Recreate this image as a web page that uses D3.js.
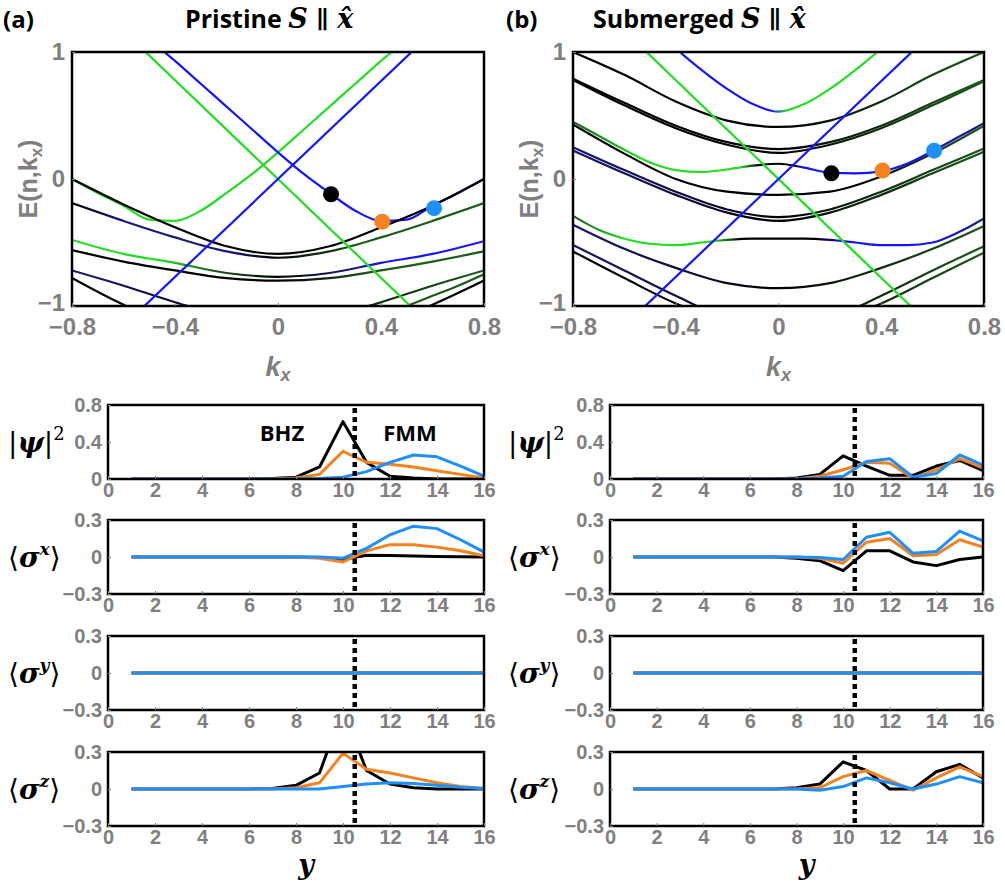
<!DOCTYPE html>
<html>
<head>
<meta charset="utf-8">
<script src="https://cdn.jsdelivr.net/npm/d3@7/dist/d3.min.js"></script>
<style>
  body { margin: 0; background: #fff; }
</style>
</head>
<body>
<div id="chart"></div>
<script>
// ---------------- band structure E(n,kx) ----------------
const kGrid = [-0.8, -0.6, -0.4, -0.2, 0, 0.2, 0.4, 0.6, 0.8];
const kFine = [-0.8, -0.7, -0.6, -0.5, -0.4, -0.3, -0.2, -0.1, 0, 0.1, 0.2, 0.3, 0.4, 0.5, 0.6, 0.7, 0.8];
const kCross = [-0.55, 0.55];
const kRight = [0.4, 0.5, 0.6, 0.7, 0.8];

// (a) pristine
const aU1a = [0.0, -0.2, -0.38, -0.53, -0.59, -0.53, -0.38, -0.21, 0.0];
const aU1b = [-0.19, -0.33, -0.46, -0.57, -0.62, -0.57, -0.46, -0.33, -0.19];
const aU2a = [-0.48, -0.59, -0.66, -0.74, -0.77, -0.74, -0.66, -0.59, -0.49];
const aU2b = [-0.56, -0.65, -0.72, -0.78, -0.80, -0.78, -0.72, -0.65, -0.57];
const aL1 = [-0.72, -0.84, -0.97, -1.08, -1.12, -1.08, -0.97, -0.84, -0.72];
const aL2 = [-0.78, -0.99, -1.15, -1.25, -1.3, -1.25, -1.15, -0.99, -0.8];
const aL3 = [-1.08, -1.0, -0.92, -0.84, -0.75];
const aCblue = [1.6, 1.45, 1.28, 1.1, 0.93, 0.75, 0.57, 0.39, 0.21, 0.04, -0.11, -0.25, -0.33, -0.32, -0.21, -0.11, 0.0];
const aCgreen = [0.0, -0.11, -0.21, -0.32, -0.33, -0.25, -0.11, 0.04, 0.21, 0.39, 0.57, 0.75, 0.93, 1.1, 1.28, 1.45, 1.6];
const lineBlue = [-1.06, 1.06];
const lineGreen = [1.07, -1.07];

// (b) submerged
const bB1 = [1.0, 0.82, 0.61, 0.46, 0.41, 0.46, 0.61, 0.82, 1.0];
const bB2a = [0.79, 0.6, 0.42, 0.29, 0.235, 0.29, 0.42, 0.6, 0.78];
const bB2b = [0.78, 0.58, 0.40, 0.27, 0.205, 0.27, 0.40, 0.58, 0.77];
const bTop = [2.0, 1.8, 1.5, 1.25, 1.03, 0.86, 0.71, 0.59, 0.53, 0.59, 0.71, 0.86, 1.03, 1.25, 1.5, 1.8, 2.0];
const bB3 = [0.45, 0.34, 0.23, 0.13, 0.07, 0.055, 0.075, 0.105, 0.12, 0.09, 0.05, 0.045, 0.06, 0.12, 0.22, 0.33, 0.44];
const bB3b = [0.43, 0.2, 0.0, -0.1, -0.125, -0.1, 0.02, 0.2, 0.42];
const bB4a = [0.25, 0.07, -0.1, -0.24, -0.30, -0.24, -0.1, 0.07, 0.24];
const bB4b = [0.225, 0.045, -0.125, -0.265, -0.33, -0.265, -0.125, 0.045, 0.215];
const bB5 = [-0.29, -0.4, -0.47, -0.51, -0.52, -0.5, -0.48, -0.47, -0.47, -0.47, -0.48, -0.5, -0.52, -0.52, -0.5, -0.42, -0.31];
const bB6 = [-0.36, -0.55, -0.7, -0.82, -0.86, -0.82, -0.7, -0.55, -0.37];
const bB7 = [-0.52, -0.72, -0.92, -1.1, -1.18, -1.1, -0.92, -0.72, -0.53];
const bB8 = [-0.57, -0.78, -0.98, -1.12, -1.2, -1.12, -0.98, -0.78, -0.58];

// marked states
const dotK = [0.206, 0.405, 0.606];
const aDotE = [-0.12, -0.336, -0.23];
const bDotE = [0.045, 0.066, 0.223];

// ---------------- site profiles along y ----------------
const siteY = [1, 2, 3, 4, 5, 6, 7, 8, 9, 10, 11, 12, 13, 14, 15, 16];
const zeros = [0, 0, 0, 0, 0, 0, 0, 0, 0, 0, 0, 0, 0, 0, 0, 0];

const psiA_k = [0, 0, 0, 0, 0, 0, 0.005, 0.02, 0.13, 0.62, 0.18, 0.03, 0.01, 0, 0, 0];
const psiA_o = [0, 0, 0, 0, 0, 0, 0, 0.01, 0.05, 0.30, 0.18, 0.16, 0.13, 0.09, 0.05, 0.01];
const psiA_b = [0, 0, 0, 0, 0, 0, 0, 0, 0.005, 0.02, 0.08, 0.18, 0.26, 0.24, 0.14, 0.03];
const sxA_k = [0, 0, 0, 0, 0, 0, 0, 0, -0.005, -0.02, 0.015, 0.012, 0.008, 0.005, 0.002, 0];
const sxA_o = [0, 0, 0, 0, 0, 0, 0, 0, -0.01, -0.04, 0.05, 0.10, 0.10, 0.08, 0.05, 0.01];
const sxA_b = [0, 0, 0, 0, 0, 0, 0, 0, 0, -0.01, 0.07, 0.18, 0.25, 0.23, 0.14, 0.04];
const szA_k = [0, 0, 0, 0, 0, 0, 0.005, 0.03, 0.13, 0.65, 0.15, 0.04, 0.01, 0, 0, 0];
const szA_o = [0, 0, 0, 0, 0, 0, 0, 0.01, 0.05, 0.29, 0.16, 0.13, 0.09, 0.05, 0.02, 0.005];
const szA_b = [0, 0, 0, 0, 0, 0, 0, 0, 0, 0.02, 0.04, 0.05, 0.045, 0.03, 0.015, 0.005];

const psiB_k = [0, 0, 0, 0, 0, 0, 0, 0.01, 0.05, 0.25, 0.14, 0.04, 0.04, 0.14, 0.20, 0.09];
const psiB_o = [0, 0, 0, 0, 0, 0, 0, 0, 0.03, 0.10, 0.18, 0.17, 0.01, 0.10, 0.22, 0.12];
const psiB_b = [0, 0, 0, 0, 0, 0, 0, 0, 0.01, 0.03, 0.19, 0.22, 0.02, 0.06, 0.26, 0.15];
const sxB_k = [0, 0, 0, 0, 0, 0, 0, -0.01, -0.03, -0.11, 0.05, 0.05, -0.04, -0.07, -0.02, 0];
const sxB_o = [0, 0, 0, 0, 0, 0, 0, 0, -0.01, -0.05, 0.12, 0.15, 0.01, 0.02, 0.14, 0.08];
const sxB_b = [0, 0, 0, 0, 0, 0, 0, 0, -0.005, -0.02, 0.16, 0.20, 0.03, 0.045, 0.21, 0.13];
const szB_k = [0, 0, 0, 0, 0, 0, 0, 0.01, 0.04, 0.22, 0.15, 0.0, 0.0, 0.14, 0.20, 0.09];
const szB_o = [0, 0, 0, 0, 0, 0, 0, 0, 0.01, 0.10, 0.15, 0.07, -0.01, 0.09, 0.18, 0.10];
const szB_b = [0, 0, 0, 0, 0, 0, 0, 0, -0.01, 0.02, 0.09, 0.05, 0.0, 0.04, 0.10, 0.05];

const interfaceY = 10.5;
const xTicksSite = [0, 2, 4, 6, 8, 10, 12, 14, 16];

// ---------------- styles ----------------
const GRAY = "#7f7f7f";
const C = {k: "#000000", navy: "#1a1a7a", dg: "#1b5c1b", blue: "#1414ff", green: "#22dd22"};
const dotColors = ["#000000", "#f5821f", "#1e8fff"];
const lineColors = ["#000000", "#f5821f", "#1e8fff"];

const svg = d3.select("#chart").append("svg")
  .attr("width", 1005).attr("height", 886)
  .style("font-family", "'Liberation Sans', Arial, sans-serif");
const defs = svg.append("defs");

const bandsA = [
  {k: kGrid, E: aL2, stops: [[-0.8, C.k], [0.8, C.k]]},
  {k: kGrid, E: aL1, stops: [[-0.8, C.navy], [0, C.k], [0.8, C.dg]]},
  {k: kRight, E: aL3, stops: [[-0.8, C.dg], [0.8, C.dg]]},
  {k: kGrid, E: aU2b, stops: [[-0.8, C.k], [0, C.k], [0.4, C.dg], [0.8, C.dg]]},
  {k: kGrid, E: aU2a, stops: [[-0.8, C.green], [-0.45, C.green], [-0.25, C.dg], [0, C.k], [0.25, C.navy], [0.45, C.blue], [0.8, C.blue]]},
  {k: kGrid, E: aU1b, stops: [[-0.8, C.k], [-0.6, C.navy], [-0.2, C.navy], [0, C.k], [0.3, C.dg], [0.8, C.dg]]},
  {k: kFine, E: aCgreen, stops: [[-0.8, C.green], [0.8, C.green]]},
  {k: kFine, E: aCblue, stops: [[-0.8, C.blue], [0.8, C.blue]]},
  {k: kGrid, E: aU1a, stops: [[-0.8, C.k], [0.8, C.k]]},
  {k: kCross, E: lineGreen, stops: [[-0.8, C.green], [0.8, C.green]]},
  {k: kCross, E: lineBlue, stops: [[-0.8, C.blue], [0.8, C.blue]]}
];

const bandsB = [
  {k: kGrid, E: bB8, stops: [[-0.8, C.k], [0, C.k], [0.8, C.dg]]},
  {k: kGrid, E: bB7, stops: [[-0.8, C.navy], [0, C.k], [0.8, C.dg]]},
  {k: kGrid, E: bB6, stops: [[-0.8, C.navy], [0, C.k], [0.8, C.dg]]},
  {k: kFine, E: bB5, stops: [[-0.8, C.dg], [-0.6, C.green], [-0.25, C.green], [-0.15, C.k], [0.15, C.k], [0.25, C.blue], [0.6, C.blue], [0.8, C.navy]]},
  {k: kGrid, E: bB4b, stops: [[-0.8, C.navy], [0, C.k], [0.8, C.dg]]},
  {k: kGrid, E: bB4a, stops: [[-0.8, C.navy], [0, C.k], [0.8, C.dg]]},
  {k: kGrid, E: bB3b, stops: [[-0.8, C.k], [0.3, C.k], [0.8, C.dg]]},
  {k: kFine, E: bB3, stops: [[-0.8, C.dg], [-0.55, C.green], [-0.15, C.green], [-0.08, C.k], [0.05, C.k], [0.1, C.blue], [0.5, C.blue], [0.8, C.navy]]},
  {k: kGrid, E: bB2b, stops: [[-0.8, C.k], [0, C.k], [0.8, C.dg]]},
  {k: kGrid, E: bB2a, stops: [[-0.8, C.k], [0, C.k], [0.8, C.dg]]},
  {k: kGrid, E: bB1, stops: [[-0.8, C.k], [0, C.k], [0.8, C.dg]]},
  {k: kFine, E: bTop, stops: [[-0.8, C.blue], [-0.03, C.blue], [0.03, C.green], [0.8, C.green]]},
  {k: kCross, E: lineGreen, stops: [[-0.8, C.green], [0.8, C.green]]},
  {k: kCross, E: lineBlue, stops: [[-0.8, C.blue], [0.8, C.blue]]}
];

function styleAxis(ax, size, color) {
  ax.attr("font-family", null).attr("font-size", size).attr("font-weight", "bold").attr("color", color);
  ax.select(".domain").remove();
}

function drawBands(id, left, right, bands, dotE, eLabelX) {
  const top = 52, bottom = 306;
  const x = d3.scaleLinear().domain([-0.8, 0.8]).range([left, right]);
  const y = d3.scaleLinear().domain([-1, 1]).range([bottom, top]);

  defs.append("clipPath").attr("id", "clip" + id).append("rect")
    .attr("x", left).attr("y", top).attr("width", right - left).attr("height", bottom - top);
  const g = svg.append("g").attr("clip-path", `url(#clip${id})`);
  const line = d3.line().x(d => x(d[0])).y(d => y(d[1])).curve(d3.curveMonotoneX);

  bands.forEach((b, i) => {
    const gid = `grad${id}${i}`;
    const grad = defs.append("linearGradient").attr("id", gid)
      .attr("gradientUnits", "userSpaceOnUse")
      .attr("x1", x(-0.8)).attr("x2", x(0.8)).attr("y1", 0).attr("y2", 0);
    b.stops.forEach(s => grad.append("stop").attr("offset", (s[0] + 0.8) / 1.6).attr("stop-color", s[1]));
    g.append("path")
      .datum(b.k.map((k, j) => [k, b.E[j]]))
      .attr("fill", "none")
      .attr("stroke", `url(#${gid})`)
      .attr("stroke-width", 2.2)
      .attr("d", line);
  });

  g.selectAll("circle").data(dotK).join("circle")
    .attr("cx", d => x(d))
    .attr("cy", (d, i) => y(dotE[i]))
    .attr("r", 8)
    .attr("fill", (d, i) => dotColors[i]);

  svg.append("rect")
    .attr("x", left).attr("y", top).attr("width", right - left).attr("height", bottom - top)
    .attr("fill", "none").attr("stroke", "#000").attr("stroke-width", 2.5);

  const ax = svg.append("g").attr("transform", `translate(0,${bottom})`)
    .call(d3.axisBottom(x).tickValues([-0.8, -0.4, 0, 0.4, 0.8]).tickFormat(d3.format("~g"))
      .tickSizeInner(-3).tickSizeOuter(0).tickPadding(12));
  styleAxis(ax, 24, GRAY);

  const ay = svg.append("g").attr("transform", `translate(${left},0)`)
    .call(d3.axisLeft(y).tickValues([-1, 0, 1]).tickFormat(d3.format("~g"))
      .tickSizeInner(-3).tickSizeOuter(0).tickPadding(7));
  styleAxis(ay, 24, GRAY);
  ay.selectAll(".tick text").filter(d => d === -1).attr("dy", "0.2em");

  // axis titles
  const el = svg.append("text")
    .attr("transform", `translate(${eLabelX},179) rotate(-90)`)
    .attr("text-anchor", "middle")
    .attr("fill", GRAY).attr("font-size", 25).attr("font-weight", "bold");
  el.append("tspan").text("E(n,k");
  el.append("tspan").attr("font-size", 17).attr("dy", 5).text("x");
  el.append("tspan").attr("dy", -5).text(")");

  const kl = svg.append("text")
    .attr("x", (left + right) / 2).attr("y", 376)
    .attr("text-anchor", "middle")
    .attr("fill", GRAY).attr("font-size", 27).attr("font-weight", "bold").attr("font-style", "italic");
  kl.append("tspan").text("k");
  kl.append("tspan").attr("font-size", 18).attr("dy", 5).text("x");
}

function drawProfile(id, left, right, top, yDom, yTicks, series, labelX, labelMain, labelSup, labelKind) {
  const h = 74;
  const x = d3.scaleLinear().domain([0, 16]).range([left, right]);
  const y = d3.scaleLinear().domain(yDom).range([top + h, top]);

  defs.append("clipPath").attr("id", "pclip" + id).append("rect")
    .attr("x", left).attr("y", top).attr("width", right - left).attr("height", h);
  const g = svg.append("g").attr("clip-path", `url(#pclip${id})`);

  const line = d3.line().x((d, i) => x(siteY[i])).y(d => y(d));
  series.forEach((s, i) => {
    g.append("path").datum(s)
      .attr("fill", "none")
      .attr("stroke", lineColors[i])
      .attr("stroke-width", 3)
      .attr("stroke-linejoin", "round")
      .attr("d", line);
  });

  svg.append("line")
    .attr("x1", x(interfaceY)).attr("x2", x(interfaceY))
    .attr("y1", top + 3).attr("y2", top + h)
    .attr("stroke", "#000").attr("stroke-width", 4.5).attr("stroke-dasharray", "5,4");

  svg.append("rect")
    .attr("x", left).attr("y", top).attr("width", right - left).attr("height", h)
    .attr("fill", "none").attr("stroke", "#000").attr("stroke-width", 2.5);

  const ax = svg.append("g").attr("transform", `translate(0,${top + h})`)
    .call(d3.axisBottom(x).tickValues(xTicksSite).tickFormat(d3.format("~g"))
      .tickSizeInner(-3).tickSizeOuter(0).tickPadding(4));
  styleAxis(ax, 20, GRAY);

  const ay = svg.append("g").attr("transform", `translate(${left},0)`)
    .call(d3.axisLeft(y).tickValues(yTicks).tickFormat(d3.format("~g"))
      .tickSizeInner(-3).tickSizeOuter(0).tickPadding(6));
  styleAxis(ay, 20, GRAY);

  // row label
  const t = svg.append("text")
    .attr("x", labelX).attr("y", top + h / 2 + 10)
    .attr("fill", "#000").attr("font-family", "'DejaVu Serif', serif")
    .attr("font-size", 28).attr("font-weight", "bold");
  if (labelKind === "psi") {
    t.append("tspan").attr("font-weight", "normal").text("|");
    t.append("tspan").attr("font-style", "italic").text(labelMain);
    t.append("tspan").attr("font-weight", "normal").text("|");
    t.append("tspan").attr("font-size", 18).attr("font-weight", "normal").attr("dy", -12).text(labelSup);
  } else {
    t.append("tspan").attr("font-weight", "normal").text("\u27E8");
    t.append("tspan").attr("font-style", "italic").text(labelMain);
    t.append("tspan").attr("font-size", 17).attr("font-style", "italic").attr("dy", -12).text(labelSup);
    t.append("tspan").attr("font-weight", "normal").attr("dy", 12).text("\u27E9");
  }
}

// ---------------- top panels ----------------
drawBands("a", 72, 484, bandsA, aDotE, 37);
drawBands("b", 573, 984, bandsB, bDotE, 538);

// ---------------- bottom panels ----------------
const rowTops = [405, 520, 636, 752];
const panels = [
  {left: 108, right: 484, lx: 8, rows: [[psiA_k, psiA_o, psiA_b], [sxA_k, sxA_o, sxA_b], [zeros, zeros, zeros], [szA_k, szA_o, szA_b]]},
  {left: 610, right: 983, lx: 508, rows: [[psiB_k, psiB_o, psiB_b], [sxB_k, sxB_o, sxB_b], [zeros, zeros, zeros], [szB_k, szB_o, szB_b]]}
];
const rowSpec = [
  {dom: [0, 0.8], ticks: [0, 0.4, 0.8], main: "\u03C8", sup: "2", kind: "psi"},
  {dom: [-0.3, 0.3], ticks: [-0.3, 0, 0.3], main: "\u03C3", sup: "x", kind: "sig"},
  {dom: [-0.3, 0.3], ticks: [-0.3, 0, 0.3], main: "\u03C3", sup: "y", kind: "sig"},
  {dom: [-0.3, 0.3], ticks: [-0.3, 0, 0.3], main: "\u03C3", sup: "z", kind: "sig"}
];
panels.forEach((p, pi) => {
  rowSpec.forEach((r, ri) => {
    drawProfile(`${pi}${ri}`, p.left, p.right, rowTops[ri], r.dom, r.ticks, p.rows[ri], p.lx, r.main, r.sup, r.kind);
  });
  svg.append("text")
    .attr("x", p.left + (p.right - p.left) * 0.5 + 10).attr("y", 874)
    .attr("text-anchor", "middle")
    .attr("font-family", "'DejaVu Serif', serif").attr("font-size", 27)
    .attr("font-weight", "bold").attr("font-style", "italic")
    .text("y");
});

// region labels in (a) |psi|^2
svg.append("text").attr("x", 282).attr("y", 441).attr("text-anchor", "middle")
  .attr("font-family", "'Open Sans', sans-serif").attr("font-weight", "bold").attr("font-size", 22)
  .text("BHZ");
svg.append("text").attr("x", 410).attr("y", 441).attr("text-anchor", "middle")
  .attr("font-family", "'Open Sans', sans-serif").attr("font-weight", "bold").attr("font-size", 22)
  .text("FMM");

// ---------------- titles ----------------
function title(x0, tag, tagX, word) {
  svg.append("text").attr("x", tagX).attr("y", 28)
    .attr("font-family", "'Open Sans', sans-serif").attr("font-weight", "bold").attr("font-size", 24)
    .text(tag);
  const t = svg.append("text").attr("x", x0).attr("y", 28)
    .attr("font-family", "'Open Sans', sans-serif").attr("font-weight", "bold").attr("font-size", 25);
  t.append("tspan").text(word + " ");
  t.append("tspan").attr("font-family", "'DejaVu Serif', serif").attr("font-style", "italic").attr("font-size", 27).text("S");
  t.append("tspan").attr("font-family", "'DejaVu Serif', serif").attr("font-size", 24).text(" \u2225 ");
  t.append("tspan").attr("font-family", "'DejaVu Serif', serif").attr("font-style", "italic").attr("font-size", 27).text("x\u0302");
}
title(185, "(a)", 3, "Pristine");
title(593, "(b)", 506, "Submerged");
</script>
</body>
</html>
